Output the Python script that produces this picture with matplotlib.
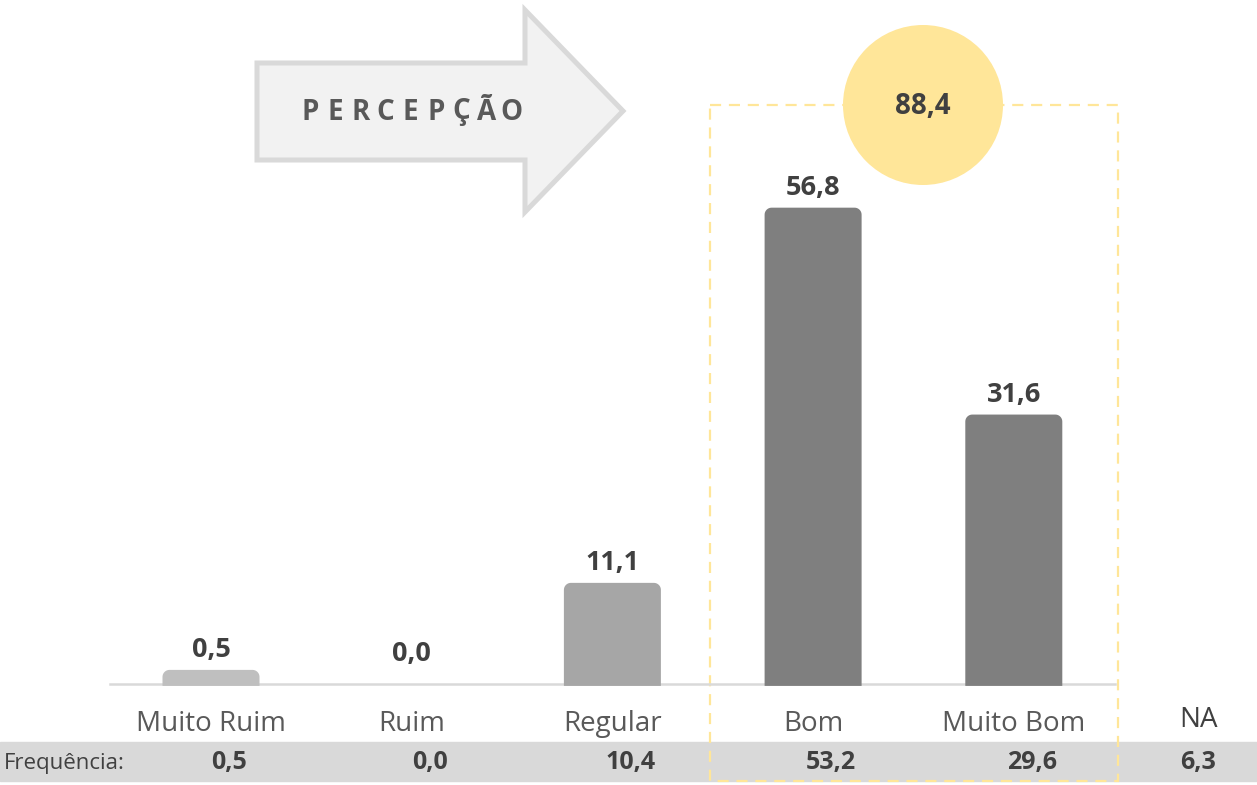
import matplotlib.pyplot as plt
from matplotlib.patches import Rectangle, Polygon, Circle, PathPatch
from matplotlib.path import Path
import numpy as np

categories = ['Muito Ruim', 'Ruim', 'Regular', 'Bom', 'Muito Bom']
percent = [0.5, 0.0, 11.1, 56.8, 31.6]
frequencia = [0.5, 0.0, 10.4, 53.2, 29.6]
na_label = 'NA'
na_freq = 6.3
positive_total = 88.4
bar_colors = ['#bfbfbf', '#bfbfbf', '#a6a6a6', '#7f7f7f', '#7f7f7f']

W, H = 1257, 785
fig = plt.figure(figsize=(W / 100, H / 100), dpi=100)

# pixel layer for the decorations
bg = fig.add_axes([0, 0, 1, 1])
bg.set_xlim(0, W)
bg.set_ylim(H, 0)
bg.axis('off')

# data layer: x = category index, y = percentage
x0_px, dx_px = 211, 200.7
y0_px, dy_px = 674, 8.21
ax = fig.add_axes([0, 0, 1, 1], facecolor='none')
ax.set_xlim(-x0_px / dx_px, (W - x0_px) / dx_px)
ax.set_ylim((y0_px - H) / dy_px, y0_px / dy_px)
ax.axis('off')

def fmt(v):
    return f'{v:.1f}'.replace('.', ',')

def rounded_top_bar(xc, bottom, top, width, rx, ry):
    # bar outline with rounded top corners only
    left, right = xc - width / 2, xc + width / 2
    ry = min(ry, (top - bottom))
    t = np.linspace(0, np.pi / 2, 12)
    pts = [(left, bottom), (right, bottom)]
    pts += [(right - rx + rx * np.cos(a), top - ry + ry * np.sin(a)) for a in t]
    pts += [(left + rx - rx * np.cos(a), top - ry + ry * np.sin(a)) for a in t[::-1]]
    pts.append((left, bottom))
    codes = [Path.MOVETO] + [Path.LINETO] * (len(pts) - 2) + [Path.CLOSEPOLY]
    return Path(pts, codes)

# frequency band
bg.add_patch(Rectangle((0, 742), W, 39, color='#d9d9d9', zorder=1))
bg.text(4, 763, 'Frequência:', fontsize=16, family='Open Sans', color='#404040',
        va='center', ha='left', zorder=3)

# arrow
arrow = Polygon([(257, 63), (525, 63), (525, 10), (623, 111), (525, 212),
                 (525, 160), (257, 160)], closed=True, facecolor='#f2f2f2',
                edgecolor='#d9d9d9', linewidth=3.6, joinstyle='miter', zorder=2)
bg.add_patch(arrow)
for i, ch in enumerate('PERCEPÇÃO'):
    bg.text(310 + 25.2 * i, 112, ch, fontsize=20, fontweight='bold',
            family='Open Sans', color='#595959', ha='center', va='center', zorder=3)

# dashed box around Bom / Muito Bom
bg.add_patch(Rectangle((710, 105), 408, 676, fill=False, edgecolor='#ffe699',
                       linewidth=1.6, linestyle=(0, (5, 3.5)), zorder=2))
bg.add_patch(Circle((923, 105), 80, facecolor='#ffe699', edgecolor='none', zorder=3))
bg.text(923, 106, fmt(positive_total), fontsize=20,
        fontweight='bold', family='Open Sans', color='#404040',
        ha='center', va='center', zorder=4)

# baseline
base = -1.22
bottom = -1.45
ax.plot([(110 - x0_px) / dx_px, (1115 - x0_px) / dx_px], [base, base],
        color='#d9d9d9', linewidth=1.8, zorder=2)

width = 97 / dx_px
rx = 7 / dx_px
ry = 7 / dy_px
for i, (v, c) in enumerate(zip(percent, bar_colors)):
    if v > 0:
        ax.add_patch(PathPatch(rounded_top_bar(i, bottom, v, width, rx, ry),
                               facecolor=c, edgecolor='none', zorder=3))
    ax.annotate(fmt(v), (i, v), xytext=(0, 5),
                textcoords='offset points', ha='center', va='bottom',
                fontsize=19.5, fontweight='bold', family='Open Sans',
                color='#404040', zorder=4)
    ax.text(i, (y0_px - 724) / dy_px, categories[i], ha='center', va='center',
            fontsize=20, family='Open Sans', color='#595959', zorder=4)
    ax.text(i + 18 / dx_px, (y0_px - 763) / dy_px, fmt(frequencia[i]),
            ha='center', va='center', fontsize=18, fontweight='bold',
            family='Open Sans', color='#404040', zorder=4)

na_x = (1198 - x0_px) / dx_px
ax.text(na_x, (y0_px - 720) / dy_px, na_label, ha='center', va='center',
        fontsize=20, family='Open Sans', color='#404040', zorder=4)
ax.text(na_x, (y0_px - 763) / dy_px, fmt(na_freq),
        ha='center', va='center', fontsize=18, fontweight='bold',
        family='Open Sans', color='#404040', zorder=4)

fig.savefig('out.png', dpi=100)
